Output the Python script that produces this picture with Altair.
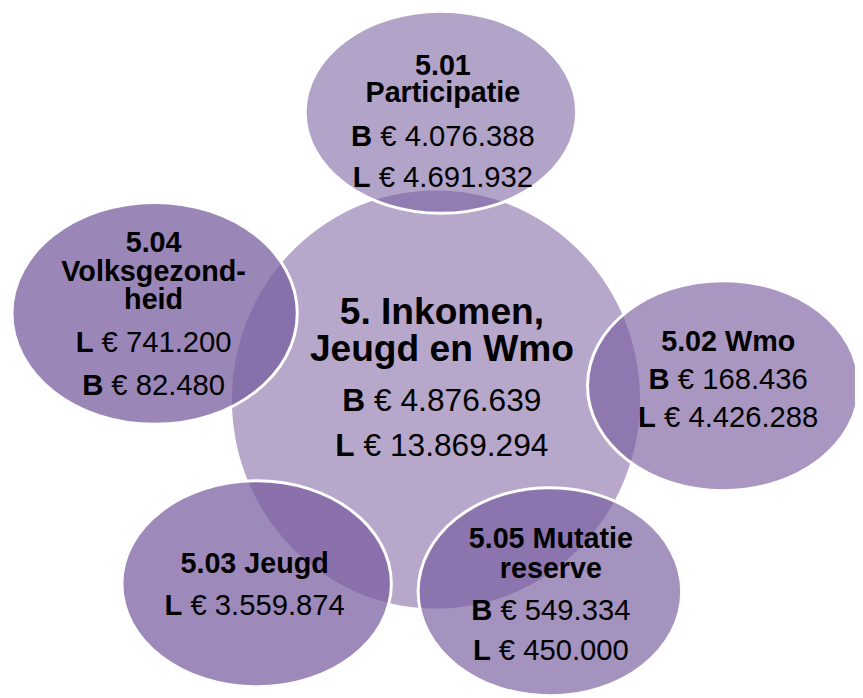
import altair as alt
import pandas as pd

# ---- content (text & amounts) ----
node_ids = ["5", "5.01", "5.02", "5.03", "5.04", "5.05"]
title_lines = [
    ["5. Inkomen,", "Jeugd en Wmo"],
    ["5.01", "Participatie"],
    ["5.02 Wmo"],
    ["5.03 Jeugd"],
    ["5.04", "Volksgezond-", "heid"],
    ["5.05 Mutatie", "reserve"],
]
amount_keys = [["B", "L"], ["B", "L"], ["B", "L"], ["L"], ["L", "B"], ["B", "L"]]
amount_values = [
    ["4.876.639", "13.869.294"],
    ["4.076.388", "4.691.932"],
    ["168.436", "4.426.288"],
    ["3.559.874"],
    ["741.200", "82.480"],
    ["549.334", "450.000"],
]

# ---- layout (reference pixel coordinates) ----
shape_cx = [440, 445, 730, 259, 156, 555]
shape_cy = [400, 110, 386, 586, 313, 594]
shape_rx = [206, 137, 137, 136, 144, 133]
shape_ry = [211, 102, 106, 104, 112, 105]
shape_opacity = [0.54, 0.57, 0.64, 0.72, 0.75, 0.67]
text_cx = [446, 447, 735, 257, 155, 556]
title_baselines = [[324, 361], [72, 100], [351], [575], [251, 280, 309], [550, 580]]
amount_baselines = [[412, 457], [144, 185], [389, 428], [617], [352, 395], [623, 663]]
title_size = [37.5, 29, 29, 29, 29, 29]
amount_size = [32, 29.5, 29.5, 29.5, 29.5, 29.5]
BASE = "#785d9f"
FONT = "Liberation Sans"

# Arial-compatible advance widths (em)
BOLD_W = {"B": 0.722, "L": 0.611}
REG_W = {" ": 0.278, "€": 0.556, ".": 0.278}
for d in "0123456789":
    REG_W[d] = 0.556


def reg_width(s):
    return sum(REG_W.get(c, 0.556) for c in s)


def ellipse_path(k):
    c = 0.5523
    return (f"M -1 0 C -1 {-k*c:.4f} {-c} {-k:.4f} 0 {-k:.4f} "
            f"C {c} {-k:.4f} 1 {-k*c:.4f} 1 0 "
            f"C 1 {k*c:.4f} {c} {k:.4f} 0 {k:.4f} "
            f"C {-c} {k:.4f} -1 {k*c:.4f} -1 0 Z")


shapes = pd.DataFrame({
    "id": node_ids,
    "cx": shape_cx,
    "cy": shape_cy,
    "path": [ellipse_path(ry / rx) for rx, ry in zip(shape_rx, shape_ry)],
    "size": [(2 * rx) ** 2 for rx in shape_rx],
    "op": shape_opacity,
    "order": list(range(len(node_ids))),
})

title_rows, key_rows, val_rows = [], [], []
for i in range(len(node_ids)):
    for line, y in zip(title_lines[i], title_baselines[i]):
        title_rows.append({"x": text_cx[i], "y": y, "t": line, "fs": title_size[i]})
    fs = amount_size[i]
    for k, v, y in zip(amount_keys[i], amount_values[i], amount_baselines[i]):
        rest = "€ " + v
        w = (BOLD_W[k] + REG_W[" "] + reg_width(rest)) * fs
        x0 = text_cx[i] - w / 2
        key_rows.append({"x": x0, "y": y, "t": k, "fs": fs})
        val_rows.append({"x": x0 + (BOLD_W[k] + REG_W[" "]) * fs, "y": y, "t": rest, "fs": fs})

xs = alt.Scale(domain=[8, 863], nice=False, zero=False)
ys = alt.Scale(domain=[8, 698], nice=False, zero=False, reverse=True)

center = alt.Chart(shapes[shapes["id"] == "5"]).mark_point(
    filled=True, color=BASE, strokeWidth=0, opacity=1
).encode(
    x=alt.X("cx:Q", scale=xs, axis=None),
    y=alt.Y("cy:Q", scale=ys, axis=None),
    shape=alt.Shape("path:N", scale=None),
    size=alt.Size("size:Q", scale=None),
    fillOpacity=alt.FillOpacity("op:Q", scale=None),
)

outer = alt.Chart(shapes[shapes["id"] != "5"]).mark_point(
    filled=True, fill=BASE, stroke="white", strokeWidth=3, strokeOpacity=1, opacity=1
).encode(
    x=alt.X("cx:Q", scale=xs, axis=None),
    y=alt.Y("cy:Q", scale=ys, axis=None),
    shape=alt.Shape("path:N", scale=None),
    size=alt.Size("size:Q", scale=None),
    fillOpacity=alt.FillOpacity("op:Q", scale=None),
    order=alt.Order("order:Q"),
)

titles = alt.Chart(pd.DataFrame(title_rows)).mark_text(
    font=FONT, fontWeight="bold", align="center", baseline="alphabetic", color="black"
).encode(
    x=alt.X("x:Q", scale=xs, axis=None),
    y=alt.Y("y:Q", scale=ys, axis=None),
    text="t:N",
    size=alt.Size("fs:Q", scale=None),
)

keys = alt.Chart(pd.DataFrame(key_rows)).mark_text(
    font=FONT, fontWeight="bold", align="left", baseline="alphabetic", color="black"
).encode(
    x=alt.X("x:Q", scale=xs, axis=None),
    y=alt.Y("y:Q", scale=ys, axis=None),
    text="t:N",
    size=alt.Size("fs:Q", scale=None),
)

vals = alt.Chart(pd.DataFrame(val_rows)).mark_text(
    font=FONT, fontWeight="normal", align="left", baseline="alphabetic", color="black"
).encode(
    x=alt.X("x:Q", scale=xs, axis=None),
    y=alt.Y("y:Q", scale=ys, axis=None),
    text="t:N",
    size=alt.Size("fs:Q", scale=None),
)

chart = alt.layer(center, outer, titles, keys, vals).properties(
    width=855, height=690, padding=0, autosize=alt.AutoSizeParams(type="none"),
    background="white",
).configure_view(stroke=None)

chart.save("out.html", embed_options={"renderer": "svg", "actions": False})
